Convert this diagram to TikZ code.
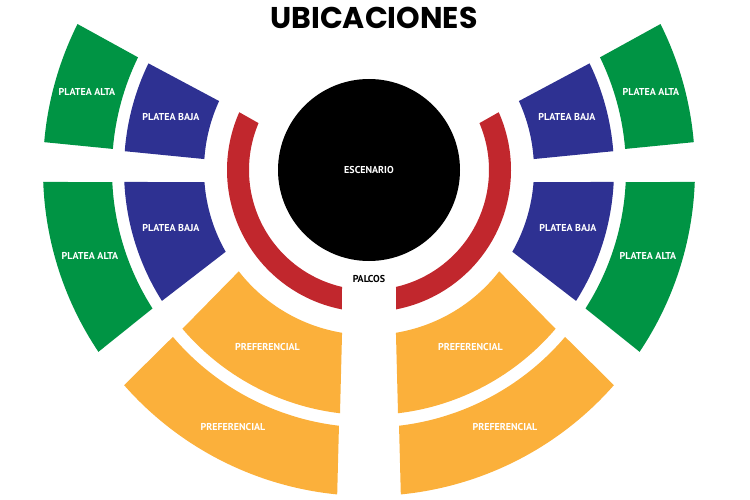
\documentclass[tikz,border=0pt]{standalone}
\usepackage{fontspec}
\setmainfont{PT Sans}
\newfontfamily\titlefont{Poppins}
\definecolor{pgreen}{RGB}{0,148,68}
\definecolor{pblue}{RGB}{46,49,146}
\definecolor{porange}{RGB}{251,176,59}
\definecolor{pred}{RGB}{193,39,45}
\newcommand\seatsector[7]{%
  \fill[#1] (#4:#2pt) arc[start angle=#4, end angle=#5, radius=#2pt]
    -- (#7:#3pt) arc[start angle=#7, end angle=#6, radius=#3pt] -- cycle;}
\tikzset{
  lbl/.style={text=white, font=\bfseries\fontsize{10}{11}\selectfont, inner sep=0pt},
  blk/.style={text=black, font=\bfseries\fontsize{10}{11}\selectfont, inner sep=0pt}
}
\begin{document}
\begin{tikzpicture}[x=1pt,y=1pt]
\useasboundingbox (0,0) rectangle (750,-500);
\foreach \s in {1,-1}{
\begin{scope}[shift={(369,-170)}, xscale=\s]
  \seatsector{pblue}{165}{245}{155.3}{176.2}{154.2}{175.6}
  \seatsector{pgreen}{257}{326}{154}{175.3}{153.4}{175.1}
  \seatsector{pblue}{165}{245}{184.2}{209.7}{182.8}{212.3}
  \seatsector{pgreen}{257}{326}{182.7}{212.6}{182.1}{213.9}
  \seatsector{porange}{165}{245}{217.9}{260.6}{220.4}{263.2}
  \seatsector{porange}{257.5}{326}{220.4}{263.3}{221.3}{264.4}
  \seatsector{pred}{120}{142}{157}{257}{156}{259}
\end{scope}
}
\fill[black] (369,-170) circle[radius=91pt];
\node[lbl] (esc) at (369,-170) {ESCENARIO};
\node[blk] (pal) at (369,-279) {PALCOS};
\node[text=black, font=\titlefont\bfseries\fontsize{30}{32}\selectfont, inner sep=0pt] (title) at (374,-18) {UBICACIONES};
\node[lbl] (pa1l) at (87,-91.5) {PLATEA ALTA};
\node[lbl] (pb1l) at (171,-117) {PLATEA BAJA};
\node[lbl] (pb2l) at (171,-228.5) {PLATEA BAJA};
\node[lbl] (pa2l) at (90,-256) {PLATEA ALTA};
\node[lbl] (pr1l) at (267.5,-347) {PREFERENCIAL};
\node[lbl] (pr2l) at (233,-427) {PREFERENCIAL};
\node[lbl] (pa1r) at (651,-91.5) {PLATEA ALTA};
\node[lbl] (pb1r) at (567,-117) {PLATEA BAJA};
\node[lbl] (pb2r) at (568,-228.5) {PLATEA BAJA};
\node[lbl] (pa2r) at (648,-256) {PLATEA ALTA};
\node[lbl] (pr1r) at (470.5,-347) {PREFERENCIAL};
\node[lbl] (pr2r) at (505,-427) {PREFERENCIAL};
\end{tikzpicture}
\end{document}
